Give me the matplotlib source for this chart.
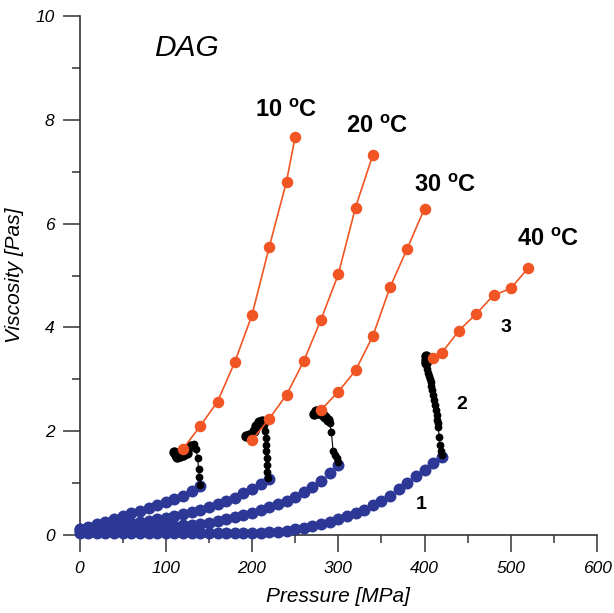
import matplotlib
matplotlib.use("Agg")
import matplotlib.pyplot as plt

plt.rcParams['font.family'] = ['Liberation Sans', 'DejaVu Sans']
plt.rcParams['mathtext.fontset'] = 'custom'
plt.rcParams['mathtext.rm'] = 'Liberation Sans'
plt.rcParams['mathtext.bf'] = 'Liberation Sans:bold'

# ------------------------------------------
# DATA
# ------------------------------------------
# region 1 : blue, one curve per temperature, 10 MPa steps
p_blue_10 = list(range(0, 141, 10))
v_blue_10 = [0.12, 0.16, 0.21, 0.26, 0.31, 0.36, 0.42, 0.47, 0.52, 0.57,
             0.63, 0.69, 0.76, 0.85, 0.94]

p_blue_20 = list(range(0, 221, 10))
v_blue_20 = [0.11, 0.13, 0.15, 0.17, 0.19, 0.21, 0.23, 0.25, 0.27, 0.30,
             0.33, 0.37, 0.40, 0.45, 0.49, 0.54, 0.59, 0.65, 0.72, 0.80,
             0.89, 0.98, 1.08]

p_blue_30 = list(range(0, 301, 10))
v_blue_30 = [0.07, 0.08, 0.08, 0.09, 0.10, 0.11, 0.12, 0.13, 0.14, 0.15,
             0.16, 0.17, 0.19, 0.20, 0.22, 0.24, 0.27, 0.30, 0.34, 0.38,
             0.42, 0.48, 0.54, 0.60, 0.66, 0.73, 0.82, 0.93, 1.05, 1.19,
             1.34]

p_blue_40 = list(range(0, 421, 10))
v_blue_40 = [0.03, 0.03, 0.03, 0.03, 0.03, 0.03, 0.03, 0.03, 0.03, 0.03,
             0.03, 0.03, 0.03, 0.03, 0.03, 0.03, 0.03, 0.03, 0.03, 0.03,
             0.04, 0.04, 0.05, 0.06, 0.08, 0.11, 0.14, 0.17, 0.22, 0.26,
             0.31, 0.36, 0.42, 0.49, 0.57, 0.66, 0.76, 0.88, 1.01, 1.14,
             1.26, 1.38, 1.51]

# region 2 : black, transition
p_black_10 = [140, 139, 138, 137, 135, 133, 129, 125, 120, 116, 112, 110, 113]
v_black_10 = [0.96, 1.12, 1.27, 1.48, 1.66, 1.76, 1.72, 1.58, 1.55, 1.52,
              1.54, 1.60, 1.50]

p_black_20 = [218, 217, 217, 217, 216, 216, 216, 215, 214, 212, 208, 205,
              202, 197, 193]
v_black_20 = [1.10, 1.22, 1.35, 1.48, 1.61, 1.74, 1.87, 2.00, 2.12, 2.20,
              2.18, 2.10, 2.00, 1.93, 1.90]

p_black_30 = [300, 298, 296, 294, 292, 290, 288, 285, 282, 278, 274, 272]
v_black_30 = [1.40, 1.48, 1.55, 1.62, 1.99, 2.15, 2.22, 2.28, 2.32, 2.35,
              2.38, 2.33]

p_black_40 = [420, 419, 418, 417, 416, 415.5, 415, 414, 413, 412, 411, 410,
              409, 408, 407, 406, 405, 404, 403, 402, 402, 402]
v_black_40 = [1.55, 1.62, 1.73, 1.89, 2.08, 2.15, 2.22, 2.32, 2.41, 2.50,
              2.60, 2.70, 2.79, 2.88, 2.95, 3.00, 3.06, 3.12, 3.20, 3.31,
              3.38, 3.44]

# region 3 : orange
p_orange_10 = [120, 140, 160, 180, 200, 220, 240, 250]
v_orange_10 = [1.66, 2.10, 2.57, 3.33, 4.24, 5.55, 6.81, 7.67]

p_orange_20 = [200, 220, 240, 260, 280, 300, 320, 340]
v_orange_20 = [1.83, 2.24, 2.70, 3.35, 4.15, 5.02, 6.31, 7.32]

p_orange_30 = [280, 300, 320, 340, 360, 380, 400]
v_orange_30 = [2.41, 2.76, 3.17, 3.83, 4.77, 5.52, 6.29]

p_orange_40 = [410, 420, 440, 460, 480, 500, 520]
v_orange_40 = [3.42, 3.51, 3.94, 4.26, 4.62, 4.75, 5.14]

temp_labels = ['10', '20', '30', '40']
temp_label_pos = [(203, 8.06), (309, 7.75), (388, 6.61), (507, 5.57)]
region_labels = ['1', '2', '3']
region_label_pos = [(396, 0.58), (443, 2.52), (495, 3.99)]

blue = '#2c3796'
orange = '#f05523'

# ------------------------------------------
# PLOT
# ------------------------------------------
fig = plt.figure(figsize=(6.14, 6.13), dpi=100)
ax = fig.add_axes([79.5 / 614, 78 / 613, 517.5 / 614, 519 / 613])

blues = [(p_blue_10, v_blue_10), (p_blue_20, v_blue_20),
         (p_blue_30, v_blue_30), (p_blue_40, v_blue_40)]
# (p, v, index where the points get drawn larger)
blacks = [(p_black_10, v_black_10, 6), (p_black_20, v_black_20, 9),
          (p_black_30, v_black_30, 6), (p_black_40, v_black_40, 19)]
oranges = [(p_orange_10, v_orange_10), (p_orange_20, v_orange_20),
           (p_orange_30, v_orange_30), (p_orange_40, v_orange_40)]

for p, v in blues:
    ax.plot(p, v, 'o', color=blue, markersize=8.6, markeredgewidth=0,
            clip_on=False, zorder=3)
for p, v, k in blacks:
    ax.plot(p, v, '-o', color='black', lw=0.8, markersize=5.6,
            markeredgewidth=0, clip_on=False, zorder=4)
    ax.plot(p[k:], v[k:], 'o', color='black', markersize=7.5,
            markeredgewidth=0, clip_on=False, zorder=4)
for p, v in oranges:
    ax.plot(p, v, '-o', color=orange, lw=1.2, markersize=8.3,
            markeredgewidth=0, clip_on=False, zorder=5)

for t, (x, y) in zip(temp_labels, temp_label_pos):
    ax.text(x, y, t + r' $^{\mathbf{o}}$C', fontsize=17, fontweight='bold',
            ha='left', va='baseline')
for t, (x, y) in zip(region_labels, region_label_pos):
    ax.text(x, y, t, fontsize=14, fontweight='bold', ha='center', va='center')

ax.text(86, 9.38, 'DAG', fontsize=21.5, style='italic', ha='left',
        va='center')

ax.set_xlim(0, 600)
ax.set_ylim(0, 10)
ax.set_xticks(range(0, 601, 100))
ax.set_xticks(range(50, 600, 100), minor=True)
ax.set_yticks(range(0, 11, 2))
ax.set_yticks(range(1, 10, 2), minor=True)

for s in ['top', 'right']:
    ax.spines[s].set_visible(False)
for s in ['left', 'bottom']:
    ax.spines[s].set_color('#333333')
    ax.spines[s].set_linewidth(1.2)

ax.tick_params(which='major', direction='out', length=12, width=1.1,
               color='#333333', labelsize=12.5)
ax.tick_params(axis='x', which='major', pad=7)
ax.tick_params(axis='y', which='major', pad=6)
ax.tick_params(which='minor', direction='out', length=6, width=1.1,
               color='#333333')
for lab in ax.get_xticklabels() + ax.get_yticklabels():
    lab.set_style('italic')

ax.set_xlabel('Pressure [MPa]', fontsize=15, style='italic', labelpad=8)
ax.set_ylabel('Viscosity [Pas]', fontsize=15, style='italic', labelpad=8)

fig.savefig('out.png', dpi=100)
